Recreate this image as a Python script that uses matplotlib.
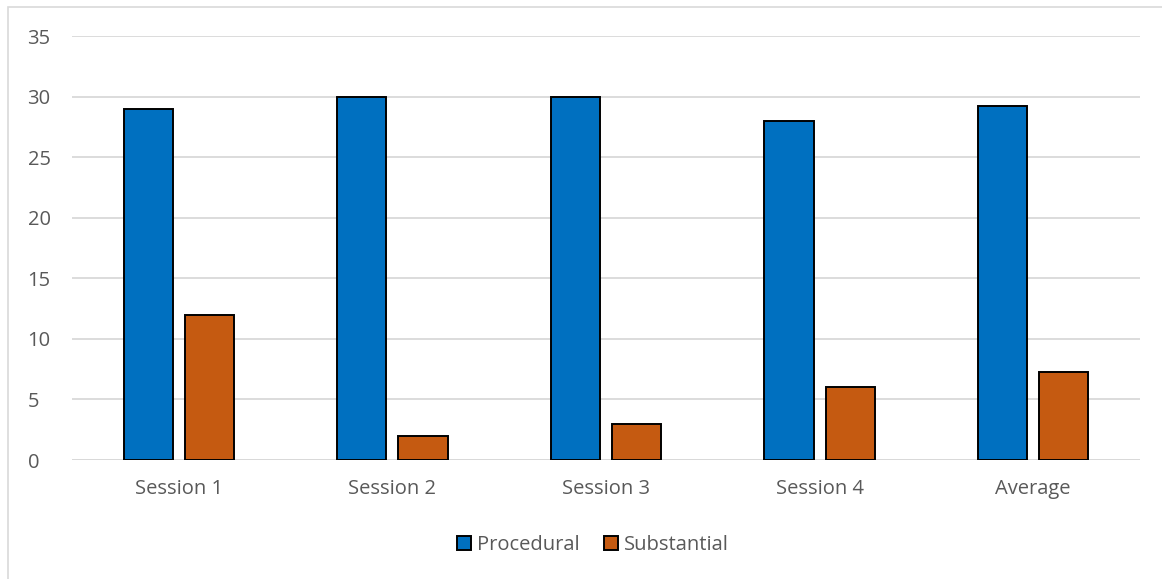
import numpy as np
import matplotlib.pyplot as plt
from matplotlib.patches import Rectangle

# session counts by type of intervention
sessions = ['Session 1', 'Session 2', 'Session 3', 'Session 4', 'Average']
procedural = [29, 30, 30, 28, 29.25]
substantial = [12, 2, 3, 6, 7.25]

plt.rcParams['font.family'] = ['Open Sans', 'DejaVu Sans']

fig = plt.figure(figsize=(11.62, 5.79), dpi=100)
ax = fig.add_axes([72/1162, 1-460/579, (1140-72)/1162, (460-36)/579])

# light frame round the whole chart area
fig.patches.append(Rectangle((8/1162, -0.05), 1.2, 1-7/579+0.05, transform=fig.transFigure,
                             fill=False, edgecolor='#d9d9d9', linewidth=1.2))

x = np.arange(len(sessions))
w = 0.23
off = 0.143
ax.bar(x-off, procedural, w, color='#0070C0', edgecolor='black', linewidth=1.4,
       label='Procedural', zorder=3)
ax.bar(x+off, substantial, w, color='#C55A11', edgecolor='black', linewidth=1.4,
       label='Substantial', zorder=3)

ax.set_xlim(-0.5, len(sessions)-0.5)
ax.set_ylim(0, 35)
ax.set_yticks(range(0, 36, 5))
ax.set_xticks(x)
ax.set_xticklabels(sessions)
ax.grid(axis='y', color='#d9d9d9', linewidth=1.3, zorder=0)
for s in ax.spines.values():
    s.set_visible(False)
ax.axhline(0, color='#d9d9d9', linewidth=1.3, zorder=1)
ax.tick_params(axis='both', length=0, labelsize=14.5, labelcolor='#595959')
ax.tick_params(axis='y', pad=32)
ax.tick_params(axis='x', pad=14)
for lbl in ax.get_yticklabels():
    lbl.set_horizontalalignment('left')

leg = ax.legend(loc='center', bbox_to_anchor=((593-72)/1068, (1-545/579-(1-460/579))/((460-36)/579)),
                ncol=2, frameon=False, fontsize=14.5, handlelength=0.7, handleheight=0.7,
                handletextpad=0.3, columnspacing=1.2)
for t in leg.get_texts():
    t.set_color('#595959')

fig.savefig('out.png', dpi=100)
